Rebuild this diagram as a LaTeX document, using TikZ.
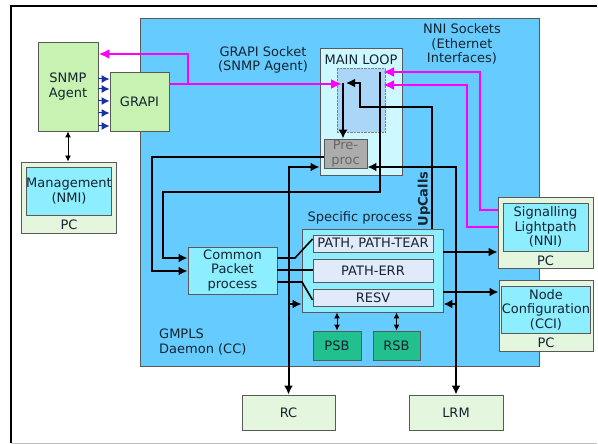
\documentclass[tikz,border=0pt]{standalone}
\usepackage{fontspec}
\setmainfont{DejaVu Sans}
\usepackage{tikz}
\usetikzlibrary{arrows.meta,positioning}

\definecolor{daemon}{RGB}{102,204,255}
\definecolor{pcgreen}{RGB}{228,247,222}
\definecolor{agent}{RGB}{200,242,178}
\definecolor{cyanfill}{RGB}{140,238,255}
\definecolor{loopout}{RGB}{206,248,255}
\definecolor{loopin}{RGB}{172,214,248}
\definecolor{msg}{RGB}{224,234,250}
\definecolor{store}{RGB}{34,192,142}
\definecolor{sigpink}{RGB}{255,0,255}
\definecolor{navy}{RGB}{20,50,160}
\definecolor{txt}{RGB}{20,36,48}

\begin{document}
\begin{tikzpicture}[x=1pt,y=-1pt,>={Latex[length=9pt,width=9pt]},
    every node/.style={font=\fontsize{13}{14.5}\selectfont,text=txt,align=center,inner sep=0pt},
    box/.style={draw=gray!70!black,line width=0.9pt,rectangle},
    pc node/.style={box,fill=pcgreen},
    agent node/.style={box,fill=agent},
    proc node/.style={box,fill=cyanfill},
    msg node/.style={box,fill=msg},
    store node/.style={box,fill=store},
    flow/.style={line width=2pt},
    feed/.style={line width=1.6pt},
    signal/.style={line width=2.2pt,draw=sigpink,>={Latex[length=11pt,width=10pt]}},
    bus/.style={line width=0.9pt,<->,>={Latex[length=6pt,width=6pt]}}]

  \useasboundingbox (0,0) rectangle (598,444);
  \draw[line width=1.5pt] (597,6) -- (11,6) -- (11,443);
  \draw[gray!50] (11,443) -- (597,443);

  % daemon area
  \node[box,fill=daemon,minimum width=399,minimum height=348] (cc) at (339.5,192) {};
  \node[anchor=west,align=left] (cc label) at (159,342) {GMPLS\\Daemon (CC)};
  \node (grapi sock) at (263,60) {GRAPI Socket\\(SNMP Agent)};
  \node (nni sock) at (462,44) {NNI Sockets\\(Ethernet\\Interfaces)};

  % management side
  \node[agent node,minimum width=60,minimum height=89] (snmp) at (68,86.5) {SNMP\\Agent};
  \node[agent node,minimum width=59,minimum height=59] (grapi) at (139.5,101.5) {GRAPI};
  \node[pc node,minimum width=95,minimum height=71] (mgmt pc) at (68.5,197.5) {};
  \node[proc node,minimum width=84,minimum height=48] (mgmt) at (69,191) {Management\\(NMI)};
  \node[below=4pt of mgmt] {PC};

  % main loop
  \node[box,fill=loopout,minimum width=82,minimum height=127] (loop) at (361,111.5) {};
  \node (loop label) at (361,60) {MAIN LOOP};
  \node[draw=gray,densely dotted,fill=loopin,minimum width=48,minimum height=64] (queue) at (361,100) {};
  \node[box,fill=gray!65,text=black!60,minimum width=43,minimum height=29] (preproc) at (345.5,153.5) {Pre-\\proc};
  \node[rotate=90,font=\fontsize{13}{14.5}\selectfont\bfseries] (upcalls) at (424,199) {UpCalls};

  % packet processing
  \node[proc node,minimum width=89,minimum height=47] (cpp) at (232.5,270.5) {Common\\Packet\\process};
  \node (spec label) at (360,218) {Specific process};
  \node[proc node,minimum width=141,minimum height=83] (spec) at (372.5,270.5) {};
  \node[msg node,minimum width=120,minimum height=17] (path) at (373,243.5) {PATH, PATH-TEAR};
  \node[msg node,minimum width=120,minimum height=23] (patherr) at (373,270.5) {PATH-ERR};
  \node[msg node,minimum width=120,minimum height=17] (resv) at (373,297.5) {RESV};
  \node[store node,minimum width=48,minimum height=29] (psb) at (337,345.5) {PSB};
  \node[store node,minimum width=47,minimum height=29] (rsb) at (396.5,345.5) {RSB};

  % outside the daemon
  \node[pc node,minimum width=95,minimum height=71] (sig pc) at (545.5,232.5) {};
  \node[proc node,minimum width=85,minimum height=48] (sig) at (545.5,227) {Signalling\\Lightpath\\(NNI)};
  \node[below=4pt of sig] {PC};
  \node[pc node,minimum width=94,minimum height=71] (conf pc) at (546,315.5) {};
  \node[proc node,minimum width=84,minimum height=47] (conf) at (546,309.5) {Node\\Configuration\\(CCI)};
  \node[below=4pt of conf] {PC};
  \node[pc node,minimum width=93,minimum height=35] (rc) at (288.5,412.5) {RC};
  \node[pc node,minimum width=94,minimum height=35] (lrm) at (456,412.5) {LRM};

  % sockets
  \draw[signal,->] (grapi.east |- 0,84) -- (342,84);
  \draw[signal,->] (188,84) |- (snmp.east |- 0,54);
  \draw[signal,->] (sig pc.west |- 0,210) -| (480,72) -- (383,72);
  \draw[signal,->] (sig pc.west |- 0,227) -| (467,85) -- (383,85);
  \foreach \y in {79,89,101,113,126}
    \draw[navy,line width=1pt,-{Latex[length=8pt,width=8pt]}] (snmp.east |- 0,\y) -- (grapi.west |- 0,\y);
  \draw[bus] (snmp.south) -- (snmp.south |- mgmt pc.north);

  % main loop flows
  \draw[flow,->] (343,83) -- (preproc.north -| 343,0);
  \draw[flow,->] (spec.north -| 432,0) |- (360,107) |- (346,83);
  \draw[flow,->] (380,72) |- (163,192) |- (cpp.west |- 0,258);
  \draw[flow,->] (preproc.west |- 0,157) -| (152,271) -- (cpp.west |- 0,271);
  \draw[flow,<->] (rc.north) |- (loop.west |- 0,167);
  \draw[flow,->] (rc.north |- 0,304) -- (spec.west |- 0,304);
  \draw[flow,<->] (lrm.north) |- (preproc.east |- 0,167);
  \draw[flow,->] (lrm.north |- 0,304) -- (spec.east |- 0,304);
  \draw[flow,->] (spec.east |- 0,252) -- (sig pc.west |- 0,252);
  \draw[flow,->] (spec.east |- 0,292) -- (conf pc.west |- 0,292);

  % dispatch to messages
  \draw[feed] (cpp.east |- 0,258) -- (295,258) -- (path.west |- 0,239);
  \draw[feed] (cpp.east |- 0,270) -- (patherr.west |- 0,270);
  \draw[feed] (cpp.east |- 0,282) -- (302,282) -- (resv.west |- 0,300);
  \draw[bus] (spec.south -| psb.north) -- (psb.north);
  \draw[bus] (spec.south -| rsb.north) -- (rsb.north);
\end{tikzpicture}
\end{document}
